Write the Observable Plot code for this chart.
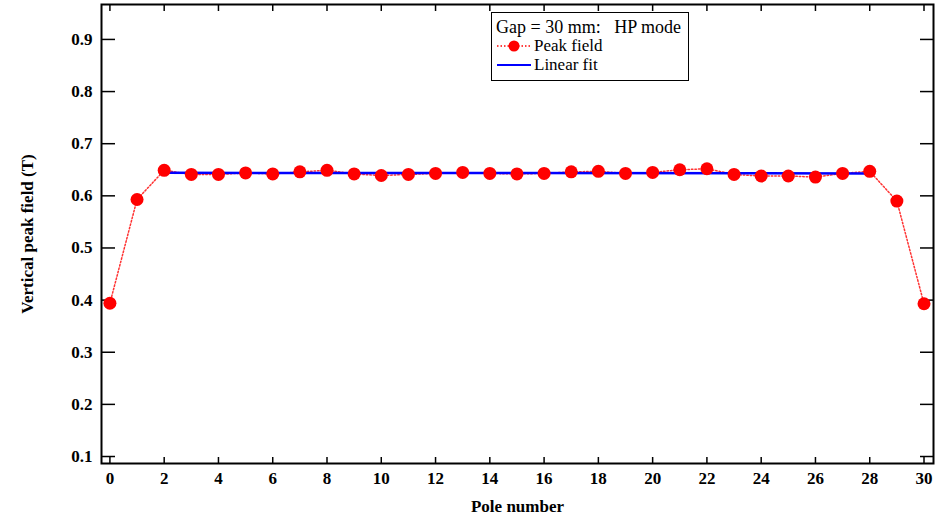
<!DOCTYPE html>
<html><head><meta charset="utf-8">
<script src="https://cdn.jsdelivr.net/npm/d3@7"></script>
<script src="https://cdn.jsdelivr.net/npm/@observablehq/plot@0.6"></script>
<style>
body{margin:0;background:#fff;overflow:hidden}
#wrap{position:relative;width:935px;height:524px}
#legend{position:absolute;left:491px;top:12px;width:198px;height:69px;box-sizing:border-box;border:1.5px solid #000;background:#fff;font-family:"Liberation Serif","Times New Roman",serif;font-size:17px;color:#000}
#legend .t{position:absolute;line-height:18px;white-space:pre}
#legend svg{position:absolute}
</style>
</head><body>
<div id="wrap">
  <div id="chart"></div>
  <div id="legend">
    <div class="t" style="left:4px;top:5px;font-size:18px">Gap = 30 mm:   HP mode</div>
    <svg style="left:4px;top:25.5px" width="36" height="14"><line x1="1" x2="35" y1="7" y2="7" stroke="red" stroke-width="1.5" stroke-dasharray="1.5,2"/><circle cx="18" cy="7" r="5.5" fill="red"/></svg>
    <div class="t" style="left:42px;top:23.5px">Peak field</div>
    <svg style="left:4px;top:44.5px" width="36" height="14"><line x1="1" x2="35" y1="7" y2="7" stroke="blue" stroke-width="2"/></svg>
    <div class="t" style="left:42px;top:42.5px">Linear fit</div>
  </div>
</div>
<script>
const poles = [0,1,2,3,4,5,6,7,8,9,10,11,12,13,14,15,16,17,18,19,20,21,22,23,24,25,26,27,28,29,30];
const peakField = [0.394,0.593,0.649,0.641,0.641,0.644,0.642,0.646,0.649,0.642,0.639,0.641,0.643,0.645,0.643,0.642,0.643,0.646,0.647,0.643,0.645,0.650,0.652,0.641,0.638,0.638,0.636,0.643,0.647,0.590,0.393];
const fitRange = [2, 28];
const xTicks = [0,2,4,6,8,10,12,14,16,18,20,22,24,26,28,30];
const yTicks = [0.1,0.2,0.3,0.4,0.5,0.6,0.7,0.8,0.9];
const xTitle = "Pole number";
const yTitle = "Vertical peak field (T)";

const data = poles.map((p, i) => ({pole: p, field: peakField[i]}));
const fitData = data.filter(d => d.pole >= fitRange[0] && d.pole <= fitRange[1]);
const font = "Liberation Serif";

const chart = Plot.plot({
  width: 935, height: 524,
  marginLeft: 101, marginRight: 2, marginTop: 4, marginBottom: 61,
  style: {fontFamily: font, fontSize: "17px", fontWeight: "bold", background: "#fff", color: "#000"},
  x: {domain: [-0.31, 30.35]},
  y: {domain: [0.0866, 0.967]},
  marks: [
    Plot.axisX(xTicks, {anchor: "bottom", tickSize: 0, tickPadding: 8, label: null, fontFamily: font, fontSize: 17, fontWeight: "bold"}),
    Plot.axisX(xTicks, {anchor: "bottom", tickSize: -6, fill: "none", label: null, strokeWidth: 1.5}),
    Plot.axisX(xTicks, {anchor: "top", tickSize: -6, fill: "none", label: null, strokeWidth: 1.5}),
    Plot.axisY(yTicks, {anchor: "left", tickSize: 0, tickPadding: 9, label: null, tickFormat: d3.format(".1f"), fontFamily: font, fontSize: 17, fontWeight: "bold"}),
    Plot.axisY(yTicks, {anchor: "left", tickSize: -14, fill: "none", label: null, strokeWidth: 1.5}),
    Plot.axisY(yTicks, {anchor: "right", tickSize: -14, fill: "none", label: null, strokeWidth: 1.5}),
    Plot.frame({strokeWidth: 2}),
    Plot.line(data, {x: "pole", y: "field", stroke: "red", strokeWidth: 1.5, strokeDasharray: "1.5,2", strokeOpacity: 0.8}),
    Plot.linearRegressionY(fitData, {x: "pole", y: "field", stroke: "blue", strokeWidth: 2.5, ci: 0}),
    Plot.dot(data, {x: "pole", y: "field", r: 6.5, fill: "red"}),
    Plot.text([yTitle], {text: d => d, frameAnchor: "left", dx: -74, rotate: -90, textAnchor: "middle", lineAnchor: "middle", fontFamily: font, fontSize: 17, fontWeight: "bold"}),
    Plot.text([xTitle], {text: d => d, frameAnchor: "bottom", dy: 43, textAnchor: "middle", lineAnchor: "middle", fontFamily: font, fontSize: 17, fontWeight: "bold"})
  ]
});
document.getElementById("chart").appendChild(chart);
</script>
</body></html>
